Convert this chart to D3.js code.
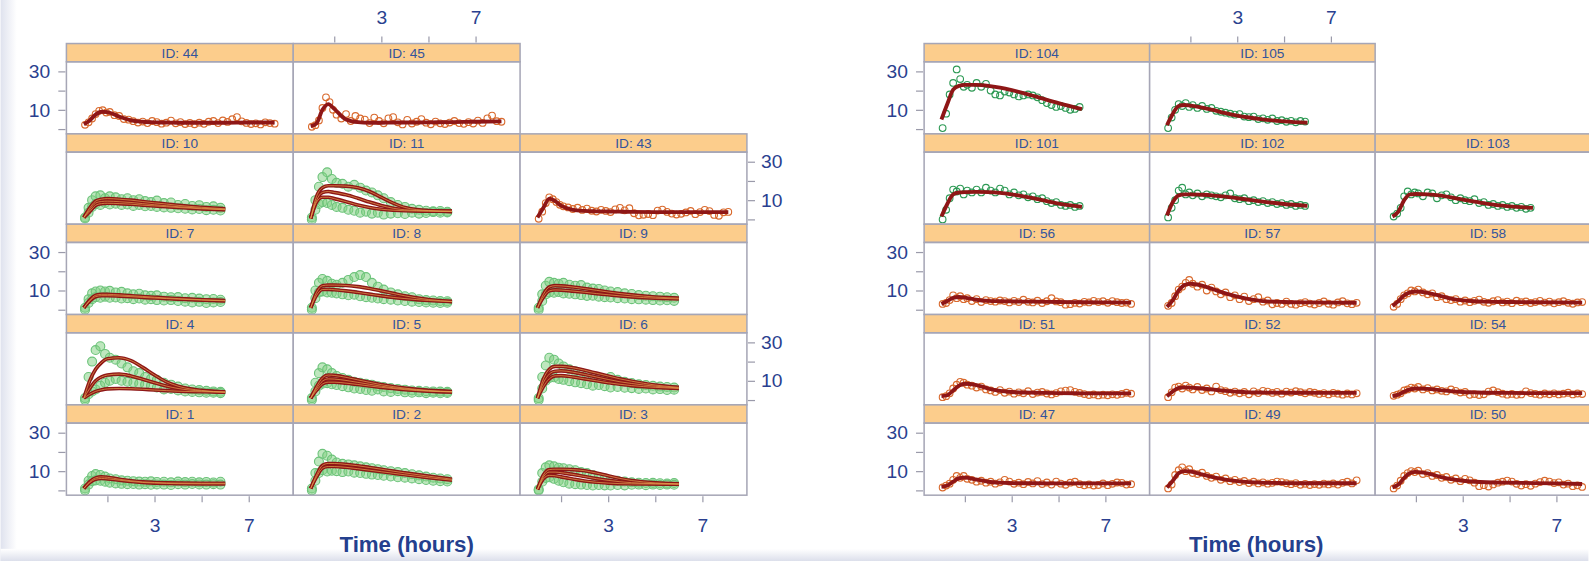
<html>
<head>
<script src="https://d3js.org/d3.v7.min.js"></script>
<style>
  body { margin: 0; background: #fff; }
  text { font-family: "Liberation Sans", Arial, sans-serif; }
  .strip { fill: #fccd8c; stroke: #a6a6b6; stroke-width: 1.5px; }
  .frame { fill: none; stroke: #a6a6b6; stroke-width: 1.5px; }
  .idtext { font-size: 13.5px; fill: #34549c; }
  .axis text { font-size: 19px; fill: #2a3f8f; }
  .axis line { stroke: #9a9aaa; stroke-width: 1.2px; }
  .axis path { display: none; }
  .xlabel { font-size: 22px; font-weight: bold; fill: #24408e; }
</style>
</head>
<body>
<div id="chart"></div>
<script>
// ---- data ----
const fitTimes = [0, 0.25, 0.5, 0.75, 1, 1.5, 2, 2.5, 3, 3.5, 4, 5, 6, 7, 8.1];
const obsTimesO = [0.05,0.2,0.35,0.5,0.65,0.8,0.95,1.1,1.3,1.5,1.7,1.9,2.1,2.3,2.5,2.7,2.9,3.1,3.3,3.5,3.7,3.9,4.1,4.3,4.5,4.7,4.9,5.1,5.3,5.5,5.7,5.9,6.1,6.3,6.5,6.7,6.9,7.1,7.3,7.5,7.7,7.9,8.1];
const obsTimesG = [0.05,0.2,0.35,0.5,0.65,0.8,0.95,1.1,1.3,1.5,1.7,1.9,2.1,2.3,2.5,2.7,2.9,3.1,3.3,3.5,3.7,3.9,4.1,4.3,4.5,4.7,4.9,5.1,5.3,5.5,5.7,5.9];
const cloudTimes = [0.05,0.2,0.35,0.5,0.7,0.9,1.1,1.35,1.6,1.85,2.1,2.35,2.6,2.85,3.1,3.4,3.7,4.0,4.3,4.6,4.9,5.2,5.5,5.8];

const leftRows = [[44, 45], [10, 11, 43], [7, 8, 9], [4, 5, 6], [1, 2, 3]];
const rightRows = [[104, 105], [101, 102, 103], [56, 57, 58], [51, 52, 54], [47, 49, 50]];
const greenIds = [1, 2, 3, 4, 5, 6, 7, 8, 9, 10, 11, 101, 102, 103, 104, 105];

const xTicks = [1, 3, 5, 7];
const xTickLabels = [3, 7];
const yTicks = [0, 10, 20, 30];
const yTickLabels = [10, 30];

// orange subjects: fitted curve + observations
const fit44 = [2.5, 4.5, 7.5, 9, 8.8, 6.5, 4.5, 3.8, 3.5, 3.4, 3.3, 3.3, 3.3, 3.4, 3.4];
const obs44 = [2.2,3.5,5.5,7.8,9.5,9.8,8.6,8.9,7.2,6.8,5.2,4.9,4.1,3.4,3.9,3.1,4.2,3.6,2.8,3.3,4.4,3.0,3.6,2.6,3.2,2.5,3.3,2.7,3.8,4.2,3.1,4.5,3.7,5.1,6.2,4.0,3.2,2.6,3.0,2.4,3.5,3.1,2.8];
const fit45 = [1.5, 3, 10, 13, 10.5, 5, 3.6, 3.3, 3.3, 3.4, 3.4, 3.5, 3.6, 3.8, 4];
const obs45 = [1.2,2.0,4.5,11,16.5,14,10,7.5,5.5,7.8,4.2,6.8,5.5,4.9,3.1,6.0,4.2,3.0,5.6,6.2,3.5,2.4,4.8,2.9,3.8,5.2,3.3,2.5,3.9,3.0,2.6,3.4,4.2,3.1,2.7,3.6,2.9,4.4,3.2,5.6,7.0,4.1,3.8];
const fit43 = [1, 6, 10.8, 9.5, 7.2, 5, 4.4, 4.2, 4.1, 4.0, 3.9, 3.8, 3.8, 3.8, 3.8];
const obs43 = [0.3,4,8.5,11.5,10.5,9.0,7.6,6.8,6.2,5.4,6.1,4.9,5.6,4.5,4.1,5.0,4.4,3.8,5.2,6.0,4.7,5.8,3.2,2.1,2.4,2.8,2.2,4.6,5.1,3.9,3.0,2.5,2.9,3.6,4.4,2.7,3.8,5.0,4.3,2.3,1.9,3.7,3.9];
const fit56 = [3, 4.5, 6.2, 6.6, 6.3, 5.2, 4.6, 4.4, 4.3, 4.2, 4.2, 4.0, 3.9, 3.8, 3.7];
const obs56 = [3,3.5,5,7.5,6,7,5.5,6,4.5,5.5,4,5,4.5,4.2,4.8,4.5,3.8,4.6,4.0,5.2,4.1,3.8,4.7,3.5,4.4,6.0,4.3,3.9,2.6,2.9,3.6,3.2,4.1,3.8,4.6,4.0,4.4,3.6,4.5,3.9,3.5,3.7,3.0];
const fit57 = [1.5, 5, 10, 12.8, 13.5, 12.5, 10.5, 8.5, 6.8, 5.5, 4.6, 4.0, 3.8, 3.7, 3.6];
const obs57 = [2,3.5,7,10.5,12,14,15.5,13.5,12,13,10,11.5,9.5,8,9,6.5,7.5,5.5,6.8,4.5,5.5,6.5,4.2,4.8,2.8,3.5,3.0,4.2,3.0,2.6,3.4,4.0,3.2,2.7,3.5,4.3,3.1,2.6,3.8,4.4,3.3,2.9,3.6];
const fit58 = [2, 4.5, 7.5, 9, 9.5, 8.8, 7.3, 5.8, 4.9, 4.4, 4.2, 4.0, 3.9, 3.8, 3.7];
const obs58 = [1.5,3,5.5,7.5,8.5,10,9.5,10.5,9,8,8.5,6.5,7,5.5,5,5.5,4.2,4.8,3.9,4.6,5.3,4.1,3.6,4.4,5.0,3.8,4.2,3.4,4.7,3.9,4.3,3.5,4.0,4.6,3.7,4.2,3.3,3.9,4.4,3.6,3.1,3.8,4.0];
const fit51 = [2, 2.5, 5, 7.5, 8.5, 7.8, 6, 4.8, 4.2, 3.9, 3.8, 3.6, 3.5, 3.5, 3.5];
const obs51 = [1.5,2,3.5,6,8,9.5,9,8,7.5,6.5,7,5.5,5,4.2,5.2,3.8,4.4,3.3,4.0,3.5,4.6,3.1,3.9,4.2,3.4,2.9,3.6,4.5,4.9,5.2,4.3,3.7,3.1,2.6,2.9,2.4,2.8,2.5,3.0,2.7,3.2,3.8,3.3];
const fit52 = [2, 4.5, 6.3, 6.6, 6.5, 6.0, 5.4, 4.8, 4.3, 4.0, 3.9, 3.8, 3.8, 3.7, 3.7];
const obs52 = [1.5,4,6.5,7,6,7.5,6.5,5.5,6.8,5.2,6.0,4.5,7.0,5.2,4.6,3.8,4.4,3.5,4.2,3.0,4.5,3.6,4.8,4.4,3.7,4.3,3.3,4.4,3.9,4.6,4.1,3.5,4.2,3.8,3.2,3.6,2.9,3.7,3.3,2.8,3.4,2.9,3.5];
const fit54 = [2, 2.8, 4.3, 5.5, 6, 5.8, 5.2, 4.6, 4.2, 4.0, 3.8, 3.7, 3.6, 3.6, 3.6];
const obs54 = [2.2,2.8,3.5,5,5.5,6.5,6,6.8,5.5,6.2,5,5.5,4.8,4.5,5.5,4.8,3.9,4.2,2.7,3.1,2.6,3.0,4.4,5.0,4.1,3.3,2.8,3.2,2.7,2.9,4.5,3.6,3.2,2.8,3.4,3.0,3.5,2.9,3.3,3.8,2.9,3.4,3.1];
const fit47 = [1.8, 2.5, 4.5, 6.3, 6.6, 5.6, 4.5, 4.0, 3.8, 3.7, 3.7, 3.6, 3.6, 3.6, 3.6];
const obs47 = [1.5,2.5,3.5,5.5,7.5,6.5,7.5,6,5.5,4.5,5,4,4.5,3.5,4.2,5.5,4.6,3.4,4.0,3.2,4.4,3.6,4.8,3.3,4.1,3.0,4.6,3.5,2.9,4.0,4.5,3.2,2.6,3.1,2.5,2.8,3.6,2.7,3.4,4.1,3.9,3.0,3.2];
const fit49 = [1.5, 5, 9, 10, 9.8, 8.3, 6.8, 5.6, 4.8, 4.3, 4.0, 3.8, 3.7, 3.7, 3.7];
const obs49 = [1,3,8,10.5,12,10,11,9,8.5,9.2,7.5,6.5,7.2,5.5,6.2,4.8,5.5,4.3,4.9,3.8,4.5,3.6,4.2,3.5,3.9,4.6,4.3,3.7,3.2,3.8,2.9,3.4,2.8,3.3,2.9,3.5,3.1,3.6,3.0,3.9,4.5,3.6,5.2];
const fit50 = [1.5, 3, 6.5, 9, 9.6, 8.8, 7.2, 5.8, 5.0, 4.5, 4.2, 4.0, 3.8, 3.6, 3.3];
const obs50 = [1,2.5,5,7.5,9,10,9.5,10.2,8.5,9,7.5,8,6.5,7,5.5,6.2,4.8,6.0,5.2,4.0,2.2,2.7,2.0,3.1,4.0,4.5,5.1,4.6,3.4,2.5,3.2,2.4,3.5,4.3,5.0,4.6,3.8,4.2,3.0,3.5,2.2,2.6,1.8];

// green subjects on the right: one fitted curve each
const fit104 = [5, 13, 20.5, 22.5, 23, 23, 22.5, 21.5, 20.2, 18.7, 17, 13.5, 10.3];
const obs104 = [0.5,8,18,24,31,26,22,23,21.5,24,22,23.5,20,18,17.5,19.5,19,18,17,17.5,18,17.5,16.5,15,13.5,12.5,11.5,12,11,10,10.5,11.5];
const fit105 = [2, 8, 12, 12.5, 12.2, 11.2, 9.8, 8.3, 7, 6, 5.2, 4, 3.3];
const obs105 = [0.5,6,10,13,12,13.5,11.5,12.5,11,12,10.5,11,9.5,9,8.5,8,7.5,7.8,6.5,6.2,6.5,5.2,5.6,4.8,5.5,4.2,4.6,3.8,4.3,3.5,4.2,3.9];
const fit101 = [1.5, 8, 13, 14, 14.2, 14.3, 14.2, 13.8, 13, 12, 10.8, 8.2, 6.5];
const obs101 = [0,5,11,15.5,14.5,16,13,15,14,15.5,14,16.5,15,14,16,15,13,14,12.5,13,11.5,12,10.5,11,9.5,8.5,9,7.5,7,7.5,6.5,7];
const fit102 = [2, 9, 12.5, 13, 13, 12.8, 12.4, 11.8, 11, 10.2, 9.4, 8, 7];
const obs102 = [1,6,10,15,16.5,13,14,12.5,13.5,12,13,12.5,12,11.5,12.5,13.5,11,10.5,11,9.5,10,9,9.5,8.5,9,8,8.5,7.5,8,7,7.5,7];
const fit103 = [1.5, 4, 10, 13, 13.2, 13, 12.5, 11.5, 10.3, 9.2, 8.2, 6.8, 6.0];
const obs103 = [1.5,3,6,12,14.5,13,14,13.5,12,14,13.5,11,12.5,13,11.5,10,11,10,9.5,10.5,8.5,9,7.5,8,7,7.5,6.5,7,6,6.5,5.5,6];

// green subjects on the left: several fitted curves, dense clouds of points
const fit10a = [1, 6, 9.5, 10.5, 10.8, 10.5, 10, 9.3, 8.6, 8, 7.3, 6.3, 5.5];
const fit10b = [1, 5, 8.5, 9.3, 9.5, 9.2, 8.8, 8.2, 7.6, 7.1, 6.6, 5.8, 5.2];
const fit10c = [1, 4, 7.3, 8.2, 8.4, 8.2, 7.9, 7.4, 7.0, 6.6, 6.2, 5.5, 5.0];
const obs10hi = [1,6,10,12,12.5,11,12,11.5,10.5,11,10,10.5,9.5,9,9.8,8.5,8.8,7.5,8,7,7.4,6.5,6.8,6];
const obs10lo = [0.5,3.5,6.5,8,7.5,8.5,7.8,8.2,7.5,7.8,7,7.5,6.8,7,6.5,6.2,6,5.8,5.5,5.2,5.4,4.8,5,4.6];
const fit11a = [0.5, 12, 16.5, 17.5, 17.5, 17.3, 16.5, 14.5, 11.5, 8.5, 6.2, 4.6, 4.2];
const fit11b = [0.5, 10, 14, 14.5, 14, 12.8, 11, 9, 7.2, 5.8, 5.0, 4.4, 4.2];
const fit11c = [0.5, 9, 11.5, 11.5, 10.8, 9.2, 7.5, 6.2, 5.3, 4.8, 4.5, 4.3, 4.2];
const obs11hi = [1,10,17,22,24.5,21,19,18.5,17,18,16.5,15,14,12.5,11,9,7.5,6.5,5.5,5,4.5,4.2,4.4,4];
const obs11lo = [0,5,8,9,8.5,7.5,6.5,6,5,4.5,3.5,4,3,3.5,2.5,3,3.2,2.8,3.5,3,3.3,3.8,3.5,3.6];
const fit7a = [1, 5, 7.5, 8, 8, 7.7, 7.3, 6.9, 6.5, 6.1, 5.8, 5.2, 4.8];
const fit7b = [1, 4.5, 6.8, 7.3, 7.3, 7.1, 6.8, 6.4, 6.1, 5.8, 5.5, 5.0, 4.6];
const obs7hi = [1,5.5,8.5,9.5,10,9.5,9.8,9,9.3,8.5,8,8.3,7.5,7.2,7.5,6.8,6.5,6.6,6,6.2,5.8,5.5,5.6,5.2];
const obs7lo = [0,3.5,5.5,6.5,6.2,6.8,6.2,6.4,5.8,6,5.5,5.8,5.2,5.5,5,4.8,5,4.5,4.2,3.8,4.1,3.5,3.8,4];
const fit8a = [1, 9, 12.5, 12.8, 12.8, 12.6, 12, 11, 9.8, 8.5, 7.2, 5.3, 4.3];
const fit8b = [1, 7.5, 10.5, 10.6, 10.4, 9.8, 9.0, 8.1, 7.2, 6.4, 5.8, 4.8, 4.2];
const obs8hi = [1,10,14,16,15,13.5,13,14,15.5,17,18,17,14,12,10.5,9,8,7,6.5,5.5,5,4.8,4.5,4.4];
const obs8lo = [0,6,9,9.5,9,8.8,8.5,8,7.5,7.8,7,6.5,6.2,5.8,5.5,5.2,4.8,4.5,4.2,4,3.8,3.6,3.5,3.6];
const fit9a = [1, 8, 11.8, 12.5, 12.4, 11.8, 11, 10.1, 9.2, 8.4, 7.7, 6.6, 6.0];
const fit9b = [1, 6.5, 9.8, 10.3, 10.2, 9.7, 9.1, 8.4, 7.8, 7.2, 6.7, 6.0, 5.6];
const obs9hi = [1,8,12.5,14.5,14,13.5,14,13,12.5,12.8,11.5,11,10.8,10,9.5,9.2,8.5,8.2,7.6,7.3,7,6.8,6.5,6.2];
const obs9lo = [0,4.5,8,9,8.8,9.2,8.5,8.3,8,7.6,7.2,7.3,6.8,6.5,6.4,6,5.8,5.5,5.4,5.2,5,4.8,4.9,4.6];
const fit4a = [1, 10, 16, 19.5, 21.5, 22, 20.5, 17, 13, 9.5, 7.2, 5, 4.2];
const fit4b = [1, 6, 10, 12, 13, 13.5, 12.5, 10.8, 9, 7.3, 6, 4.7, 4.1];
const fit4c = [1, 3, 4.5, 5.3, 5.8, 6, 5.9, 5.6, 5.2, 4.9, 4.6, 4.3, 4.1];
const obs4hi = [1,12,20,26,28,24,22,21,19,17,15,14,12,11,10.5,9,8,7,6,5.5,5.2,4.8,4.5,4.3];
const obs4lo = [0,3,4.5,5.5,7.5,9,10,11,10,9.5,9,8.5,8,7.5,6.5,5.5,5.8,5,4.5,4.2,4,3.8,3.8,3.6];
const fit5a = [1, 7, 11.5, 13, 12.8, 11.8, 10.5, 9.2, 8, 7, 6.2, 5, 4.4];
const fit5b = [1, 6, 9.8, 11, 10.9, 10.2, 9.2, 8.2, 7.2, 6.4, 5.8, 4.8, 4.3];
const fit5c = [1, 5, 8.3, 9.3, 9.3, 8.8, 8.1, 7.3, 6.6, 6.0, 5.4, 4.6, 4.2];
const obs5hi = [1,9,14,17,16,14,12.5,11.5,10.5,9.5,9,8.5,8,7.2,6.8,6.2,5.8,5.4,5,4.8,4.6,4.5,4.4,4.3];
const obs5lo = [0,4.5,7.5,8.5,8.8,8.2,7.8,7.2,6.6,6,5.8,5.2,4.8,5.5,4.5,4.2,4.6,4,3.8,4,3.6,3.8,3.5,3.7];
const fit6a = [1, 11, 16, 17.5, 17.5, 16.8, 15.5, 14, 12.5, 11, 9.8, 7.8, 6.6];
const fit6b = [1, 9, 13.5, 15, 15.2, 14.5, 13.3, 12, 10.7, 9.5, 8.6, 7.2, 6.3];
const fit6c = [1, 7, 11, 12.6, 12.7, 12, 11, 10, 9, 8.2, 7.5, 6.6, 6.0];
const obs6hi = [1,12,18,22,21,19,17.5,16,15,14,13,12,11.5,11,12,10.5,9.5,8.8,8.2,7.8,7.4,7,6.8,6.5];
const obs6lo = [0,6,10,11.5,11.8,11,10.5,9.8,9.2,8.8,8.2,7.5,7.8,7.2,6.5,6.8,6.4,6.2,5.8,6,5.5,5.7,5.2,5.4];
const fit1a = [1, 4.5, 6.5, 7, 6.8, 5.8, 5, 4.4, 4.1, 3.9, 3.8, 3.7, 3.7];
const fit1b = [1, 4, 5.8, 6.2, 6.0, 5.3, 4.6, 4.1, 3.8, 3.6, 3.5, 3.4, 3.4];
const obs1hi = [1,5,7.5,8.5,8,7.2,6.2,5.8,5.2,5,4.8,4.6,4.5,4.7,4.4,4.5,4.2,4.6,4.3,4.5,4.2,4.4,4.1,4.5];
const obs1lo = [0,3,4.8,5.2,5,4.5,4,3.6,3.4,3.2,3.3,3,3.2,2.9,3.1,3,2.8,3.2,3,3.3,3.1,3,3.2,3];
const fit2a = [1, 8, 13, 14, 14, 13.5, 12.8, 11.9, 11, 10, 9.1, 7.4, 5.8];
const fit2b = [1, 7, 11.5, 12.4, 12.4, 12.0, 11.3, 10.5, 9.7, 8.9, 8.1, 6.6, 5.3];
const obs2hi = [1,9,15,19,18,16,14.5,13.8,13.5,13,12.5,12,11.5,11,10.5,10,9.5,9,8.4,7.8,7.2,6.6,6.2,5.8];
const obs2lo = [0,5,9,10.5,9.8,10.2,10,9.5,9.8,9.2,9,8.6,8.2,8,7.6,7.2,6.8,6.6,6.2,5.8,5.4,5,4.8,4.6];
const fit3a = [0.5, 8, 10.8, 11, 11, 10.8, 10.2, 9, 7.6, 6.2, 5.1, 3.9, 3.4];
const fit3b = [0.5, 7, 9.5, 9.5, 9.2, 8.3, 7.2, 6.1, 5.2, 4.5, 4.0, 3.5, 3.3];
const fit3c = [0.5, 6, 7.8, 7.6, 7.0, 5.9, 4.9, 4.2, 3.8, 3.5, 3.4, 3.3, 3.2];
const obs3hi = [0.5,9,12,13,12.5,11.8,11.5,11,10.5,9.5,9,8,7,6.2,5.5,5,4.6,4.2,4,3.8,3.9,3.7,3.6,3.8];
const obs3lo = [0,4.5,6.5,6.8,6,5,4.2,3.5,3.2,3,2.8,2.5,2.8,2.6,2.5,2.8,2.6,2.9,3,2.7,3,2.8,3,2.9];

// lookup table built from the arrays above
const panels = {
  44: {fits: [fit44], obs: [[obsTimesO, obs44]]},
  45: {fits: [fit45], obs: [[obsTimesO, obs45]]},
  43: {fits: [fit43], obs: [[obsTimesO, obs43]]},
  56: {fits: [fit56], obs: [[obsTimesO, obs56]]},
  57: {fits: [fit57], obs: [[obsTimesO, obs57]]},
  58: {fits: [fit58], obs: [[obsTimesO, obs58]]},
  51: {fits: [fit51], obs: [[obsTimesO, obs51]]},
  52: {fits: [fit52], obs: [[obsTimesO, obs52]]},
  54: {fits: [fit54], obs: [[obsTimesO, obs54]]},
  47: {fits: [fit47], obs: [[obsTimesO, obs47]]},
  49: {fits: [fit49], obs: [[obsTimesO, obs49]]},
  50: {fits: [fit50], obs: [[obsTimesO, obs50]]},
  104: {fits: [fit104], obs: [[obsTimesG, obs104]]},
  105: {fits: [fit105], obs: [[obsTimesG, obs105]]},
  101: {fits: [fit101], obs: [[obsTimesG, obs101]]},
  102: {fits: [fit102], obs: [[obsTimesG, obs102]]},
  103: {fits: [fit103], obs: [[obsTimesG, obs103]]},
  10: {fits: [fit10a, fit10b, fit10c], obs: [[cloudTimes, obs10hi], [cloudTimes, obs10lo]], cloud: true},
  11: {fits: [fit11a, fit11b, fit11c], obs: [[cloudTimes, obs11hi], [cloudTimes, obs11lo]], cloud: true},
  7: {fits: [fit7a, fit7b], obs: [[cloudTimes, obs7hi], [cloudTimes, obs7lo]], cloud: true},
  8: {fits: [fit8a, fit8b], obs: [[cloudTimes, obs8hi], [cloudTimes, obs8lo]], cloud: true},
  9: {fits: [fit9a, fit9b], obs: [[cloudTimes, obs9hi], [cloudTimes, obs9lo]], cloud: true},
  4: {fits: [fit4a, fit4b, fit4c], obs: [[cloudTimes, obs4hi], [cloudTimes, obs4lo]], cloud: true},
  5: {fits: [fit5a, fit5b, fit5c], obs: [[cloudTimes, obs5hi], [cloudTimes, obs5lo]], cloud: true},
  6: {fits: [fit6a, fit6b, fit6c], obs: [[cloudTimes, obs6hi], [cloudTimes, obs6lo]], cloud: true},
  1: {fits: [fit1a, fit1b], obs: [[cloudTimes, obs1hi], [cloudTimes, obs1lo]], cloud: true},
  2: {fits: [fit2a, fit2b], obs: [[cloudTimes, obs2hi], [cloudTimes, obs2lo]], cloud: true},
  3: {fits: [fit3a, fit3b, fit3c], obs: [[cloudTimes, obs3hi], [cloudTimes, obs3lo]], cloud: true}
};

// ---- drawing ----
const svg = d3.select("#chart").append("svg")
    .attr("width", 1589)
    .attr("height", 561)
    .attr("viewBox", "0 0 1568 554");

const defs = svg.append("defs");
const gl = defs.append("linearGradient").attr("id", "leftband").attr("x1", 0).attr("x2", 1);
gl.append("stop").attr("offset", 0).attr("stop-color", "#dfe2ee");
gl.append("stop").attr("offset", 1).attr("stop-color", "#ffffff");
const gb = defs.append("linearGradient").attr("id", "bottomband").attr("x1", 0).attr("x2", 0).attr("y1", 0).attr("y2", 1);
gb.append("stop").attr("offset", 0).attr("stop-color", "#ffffff");
gb.append("stop").attr("offset", 1).attr("stop-color", "#dcdfeb");

svg.append("rect").attr("width", 1568).attr("height", 554).attr("fill", "#fff");
svg.append("rect").attr("width", 16).attr("height", 554).attr("fill", "url(#leftband)");
svg.append("rect").attr("y", 542).attr("width", 1568).attr("height", 12).attr("fill", "url(#bottomband)");

const top0 = 43, rowH = 89.2, stripH = 18;
const xDom = [-0.74, 8.89], yDom = [-2.5, 35];

function styleAxis(g) {
    g.attr("class", "axis");
    g.select(".domain").remove();
}

function drawLattice(rows, x0, colW, labelX, rightAxis) {
    const lat = svg.append("g");
    const rowY = r => top0 + r * rowH;
    const yScale = r => d3.scaleLinear().domain(yDom).range([rowY(r + 1), rowY(r) + stripH]);
    const xScale = c => d3.scaleLinear().domain(xDom).range([x0 + c * colW, x0 + (c + 1) * colW]);

    rows.forEach((row, r) => {
        row.forEach((id, c) => {
            const p = panels[id];
            const green = greenIds.includes(id);
            const x = xScale(c), y = yScale(r);
            const px = x0 + c * colW, py = rowY(r);
            const g = lat.append("g");

            g.append("rect").attr("x", px).attr("y", py + stripH)
                .attr("width", colW).attr("height", rowH - stripH).attr("fill", "#fff");
            g.append("rect").attr("class", "strip").attr("x", px).attr("y", py)
                .attr("width", colW).attr("height", stripH);
            g.append("text").attr("class", "idtext")
                .attr("x", px + colW / 2).attr("y", py + stripH / 2 + 5)
                .attr("text-anchor", "middle").text("ID: " + id);

            defs.append("clipPath").attr("id", "clip" + id).append("rect")
                .attr("x", px).attr("y", py + stripH).attr("width", colW).attr("height", rowH - stripH);
            const body = g.append("g").attr("clip-path", "url(#clip" + id + ")");

            p.obs.forEach(([ts, vs]) => {
                body.selectAll(null).data(d3.zip(ts, vs)).enter().append("circle")
                    .attr("cx", d => x(d[0])).attr("cy", d => y(d[1]))
                    .attr("r", p.cloud ? 4.4 : 3.3)
                    .attr("fill", p.cloud ? "rgba(125,208,125,0.5)" : "none")
                    .attr("stroke", green ? (p.cloud ? "#6cc37a" : "#2e9a55") : "#d96a2e")
                    .attr("stroke-width", 1.1);
            });

            const line = d3.line().x(d => x(d[0])).y(d => y(d[1])).curve(d3.curveMonotoneX);
            p.fits.forEach(f => {
                body.append("path").datum(d3.zip(fitTimes, f)).attr("d", line)
                    .attr("fill", "none").attr("stroke", "#8e1616")
                    .attr("stroke-width", p.fits.length > 1 ? 3.6 : 3.8).attr("stroke-linejoin", "round");
            });
            if (p.fits.length > 1) {
                p.fits.forEach(f => {
                    body.append("path").datum(d3.zip(fitTimes, f)).attr("d", line)
                        .attr("fill", "none").attr("stroke", "#e9a552")
                        .attr("stroke-opacity", 0.85).attr("stroke-width", 0.8);
                });
            }

            g.append("rect").attr("class", "frame").attr("x", px).attr("y", py + stripH)
                .attr("width", colW).attr("height", rowH - stripH);
        });

        // alternating y axes
        const ys = yScale(r);
        if (r % 2 === 0) {
            lat.append("g").attr("transform", "translate(" + (x0 - 1) + ",0)")
                .call(d3.axisLeft(ys).tickValues(yTicks).tickSize(7).tickPadding(8)
                    .tickFormat(d => yTickLabels.includes(d) ? d : ""))
                .call(styleAxis);
        } else if (rightAxis) {
            lat.append("g").attr("transform", "translate(" + (x0 + 3 * colW + 1) + ",0)")
                .call(d3.axisRight(ys).tickValues(yTicks).tickSize(7).tickPadding(6)
                    .tickFormat(d => yTickLabels.includes(d) ? d : ""))
                .call(styleAxis);
        }
    });

    // alternating x axes
    [0, 2].forEach(c => {
        lat.append("g").attr("transform", "translate(0," + (rowY(5) + 1) + ")")
            .call(d3.axisBottom(xScale(c)).tickValues(xTicks).tickSize(6).tickPadding(16)
                .tickFormat(d => xTickLabels.includes(d) ? d : ""))
            .call(styleAxis);
    });
    lat.append("g").attr("transform", "translate(0," + (top0 - 1) + ")")
        .call(d3.axisTop(xScale(1)).tickValues(xTicks).tickSize(6).tickPadding(12)
            .tickFormat(d => xTickLabels.includes(d) ? d : ""))
        .call(styleAxis);

    lat.append("text").attr("class", "xlabel")
        .attr("x", labelX).attr("y", 545)
        .attr("text-anchor", "middle").text("Time (hours)");
}

drawLattice(leftRows, 65, 224, 401, true);
drawLattice(rightRows, 912, 222.7, 1240, false);
</script>
</body>
</html>
